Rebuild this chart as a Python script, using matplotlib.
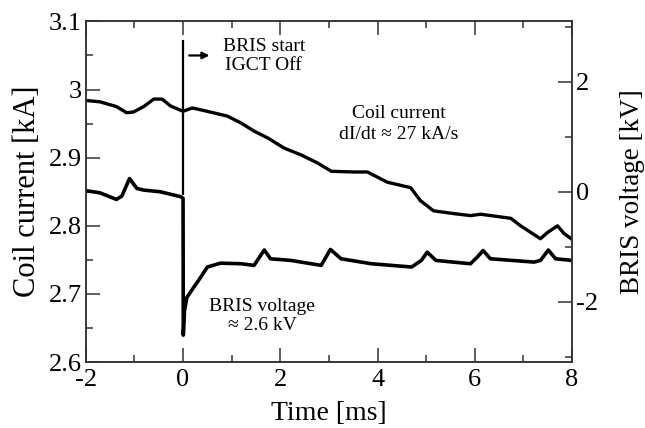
import numpy as np
import matplotlib.pyplot as plt
from matplotlib.ticker import MultipleLocator

plt.rcParams['font.family'] = ['Liberation Serif', 'DejaVu Serif']
plt.rcParams['axes.unicode_minus'] = False

# coil current trace (ms, kA)
t_cur = [-2.0, -1.71, -1.37, -1.16, -1.02, -0.81, -0.6, -0.43, -0.26, 0.0,
         0.19, 0.5, 0.91, 1.19, 1.46, 1.74, 2.08, 2.43, 2.77, 3.05,
         3.51, 3.79, 4.2, 4.68, 4.88, 5.15, 5.56, 5.91, 6.12, 6.74,
         6.94, 7.35, 7.49, 7.7, 7.83, 8.0]
i_cur = [2.984, 2.982, 2.975, 2.966, 2.967, 2.975, 2.986, 2.986, 2.976, 2.968,
         2.973, 2.968, 2.961, 2.951, 2.939, 2.929, 2.914, 2.904, 2.892, 2.880,
         2.879, 2.879, 2.864, 2.856, 2.837, 2.822, 2.818, 2.815, 2.817, 2.811,
         2.800, 2.781, 2.790, 2.800, 2.789, 2.780]

# BRIS voltage trace (ms, kV)
t_volt = [-2.0, -1.71, -1.37, -1.26, -1.1, -0.95, -0.81, -0.47, -0.05, 0.0,
          0.005, 0.03, 0.08, 0.22, 0.36, 0.5, 0.77, 1.19, 1.46, 1.67,
          1.8, 2.22, 2.84, 3.03, 3.25, 3.87, 4.7, 4.9, 5.02, 5.2,
          5.91, 6.05, 6.17, 6.32, 7.22, 7.35, 7.51, 7.66, 8.0]
v_volt = [0.02, -0.02, -0.14, -0.08, 0.24, 0.06, 0.03, 0.0, -0.09, -0.12,
          -2.61, -2.16, -1.92, -1.74, -1.56, -1.37, -1.30, -1.31, -1.34, -1.06,
          -1.22, -1.25, -1.34, -1.05, -1.22, -1.31, -1.37, -1.25, -1.10, -1.25,
          -1.31, -1.19, -1.07, -1.22, -1.28, -1.25, -1.06, -1.22, -1.25]

fig = plt.figure(figsize=(6.45, 4.28), dpi=100)
ax = fig.add_axes([0.133, 0.154, 0.754, 0.796])
ax2 = ax.twinx()

ax.plot(t_cur, i_cur, color='black', lw=2.4, solid_joinstyle='round')
ax2.plot(t_volt, v_volt, color='black', lw=2.6, solid_joinstyle='round')

# BRIS start marker
ax.vlines(0, 2.845, 3.073, color='black', lw=1.6)
ax.annotate('', xy=(0.6, 3.05), xytext=(0.07, 3.05),
            arrowprops=dict(arrowstyle='-|>', color='black', lw=1.6,
                            mutation_scale=10))
ax.text(1.66, 3.049, 'BRIS start\nIGCT Off', ha='center', va='center',
        fontsize=14, linespacing=1.15)
ax.text(4.43, 2.950, 'Coil current\ndI/dt \u2248 27 kA/s', ha='center',
        va='center', fontsize=14, linespacing=1.3)
ax.text(1.63, 2.667, 'BRIS voltage\n\u2248 2.6 kV', ha='center', va='center',
        fontsize=14, linespacing=1.15)

ax.set_xlim(-2, 8)
ax.set_ylim(2.6, 3.1)
ax2.set_ylim(-3.1, 3.1)

ax.xaxis.set_major_locator(MultipleLocator(2))
ax.xaxis.set_minor_locator(MultipleLocator(1))
ax.yaxis.set_minor_locator(MultipleLocator(0.05))
ax2.yaxis.set_major_locator(MultipleLocator(2))
ax2.yaxis.set_minor_locator(MultipleLocator(1))

ax.set_yticks([2.6, 2.7, 2.8, 2.9, 3.0, 3.1])
ax.set_yticklabels(['2.6', '2.7', '2.8', '2.9', '3', '3.1'])

ax.tick_params(which='both', direction='in', top=True, labelsize=19,
               color='#333333')
ax.tick_params(axis='x', pad=5)
ax.tick_params(axis='y', pad=3)
ax.tick_params(which='major', length=10, width=1.1)
ax.tick_params(which='minor', length=5, width=1.1)
ax2.tick_params(which='both', direction='in', labelsize=19, pad=3,
                color='#333333')
ax2.tick_params(which='major', length=10, width=1.1)
ax2.tick_params(which='minor', length=5, width=1.1)

for a in (ax, ax2):
    for s in a.spines.values():
        s.set_color('#333333')
        s.set_linewidth(1.1)

ax.set_xlabel('Time [ms]', fontsize=20)
ax.set_ylabel('Coil current [kA]', fontsize=22)
ax2.set_ylabel('BRIS voltage [kV]', fontsize=19.5)
ax.xaxis.set_label_coords(0.5, -0.115)
ax.yaxis.set_label_coords(-0.09, 0.5)
ax2.yaxis.set_label_coords(1.098, 0.5)

fig.savefig('out.png', dpi=100)
